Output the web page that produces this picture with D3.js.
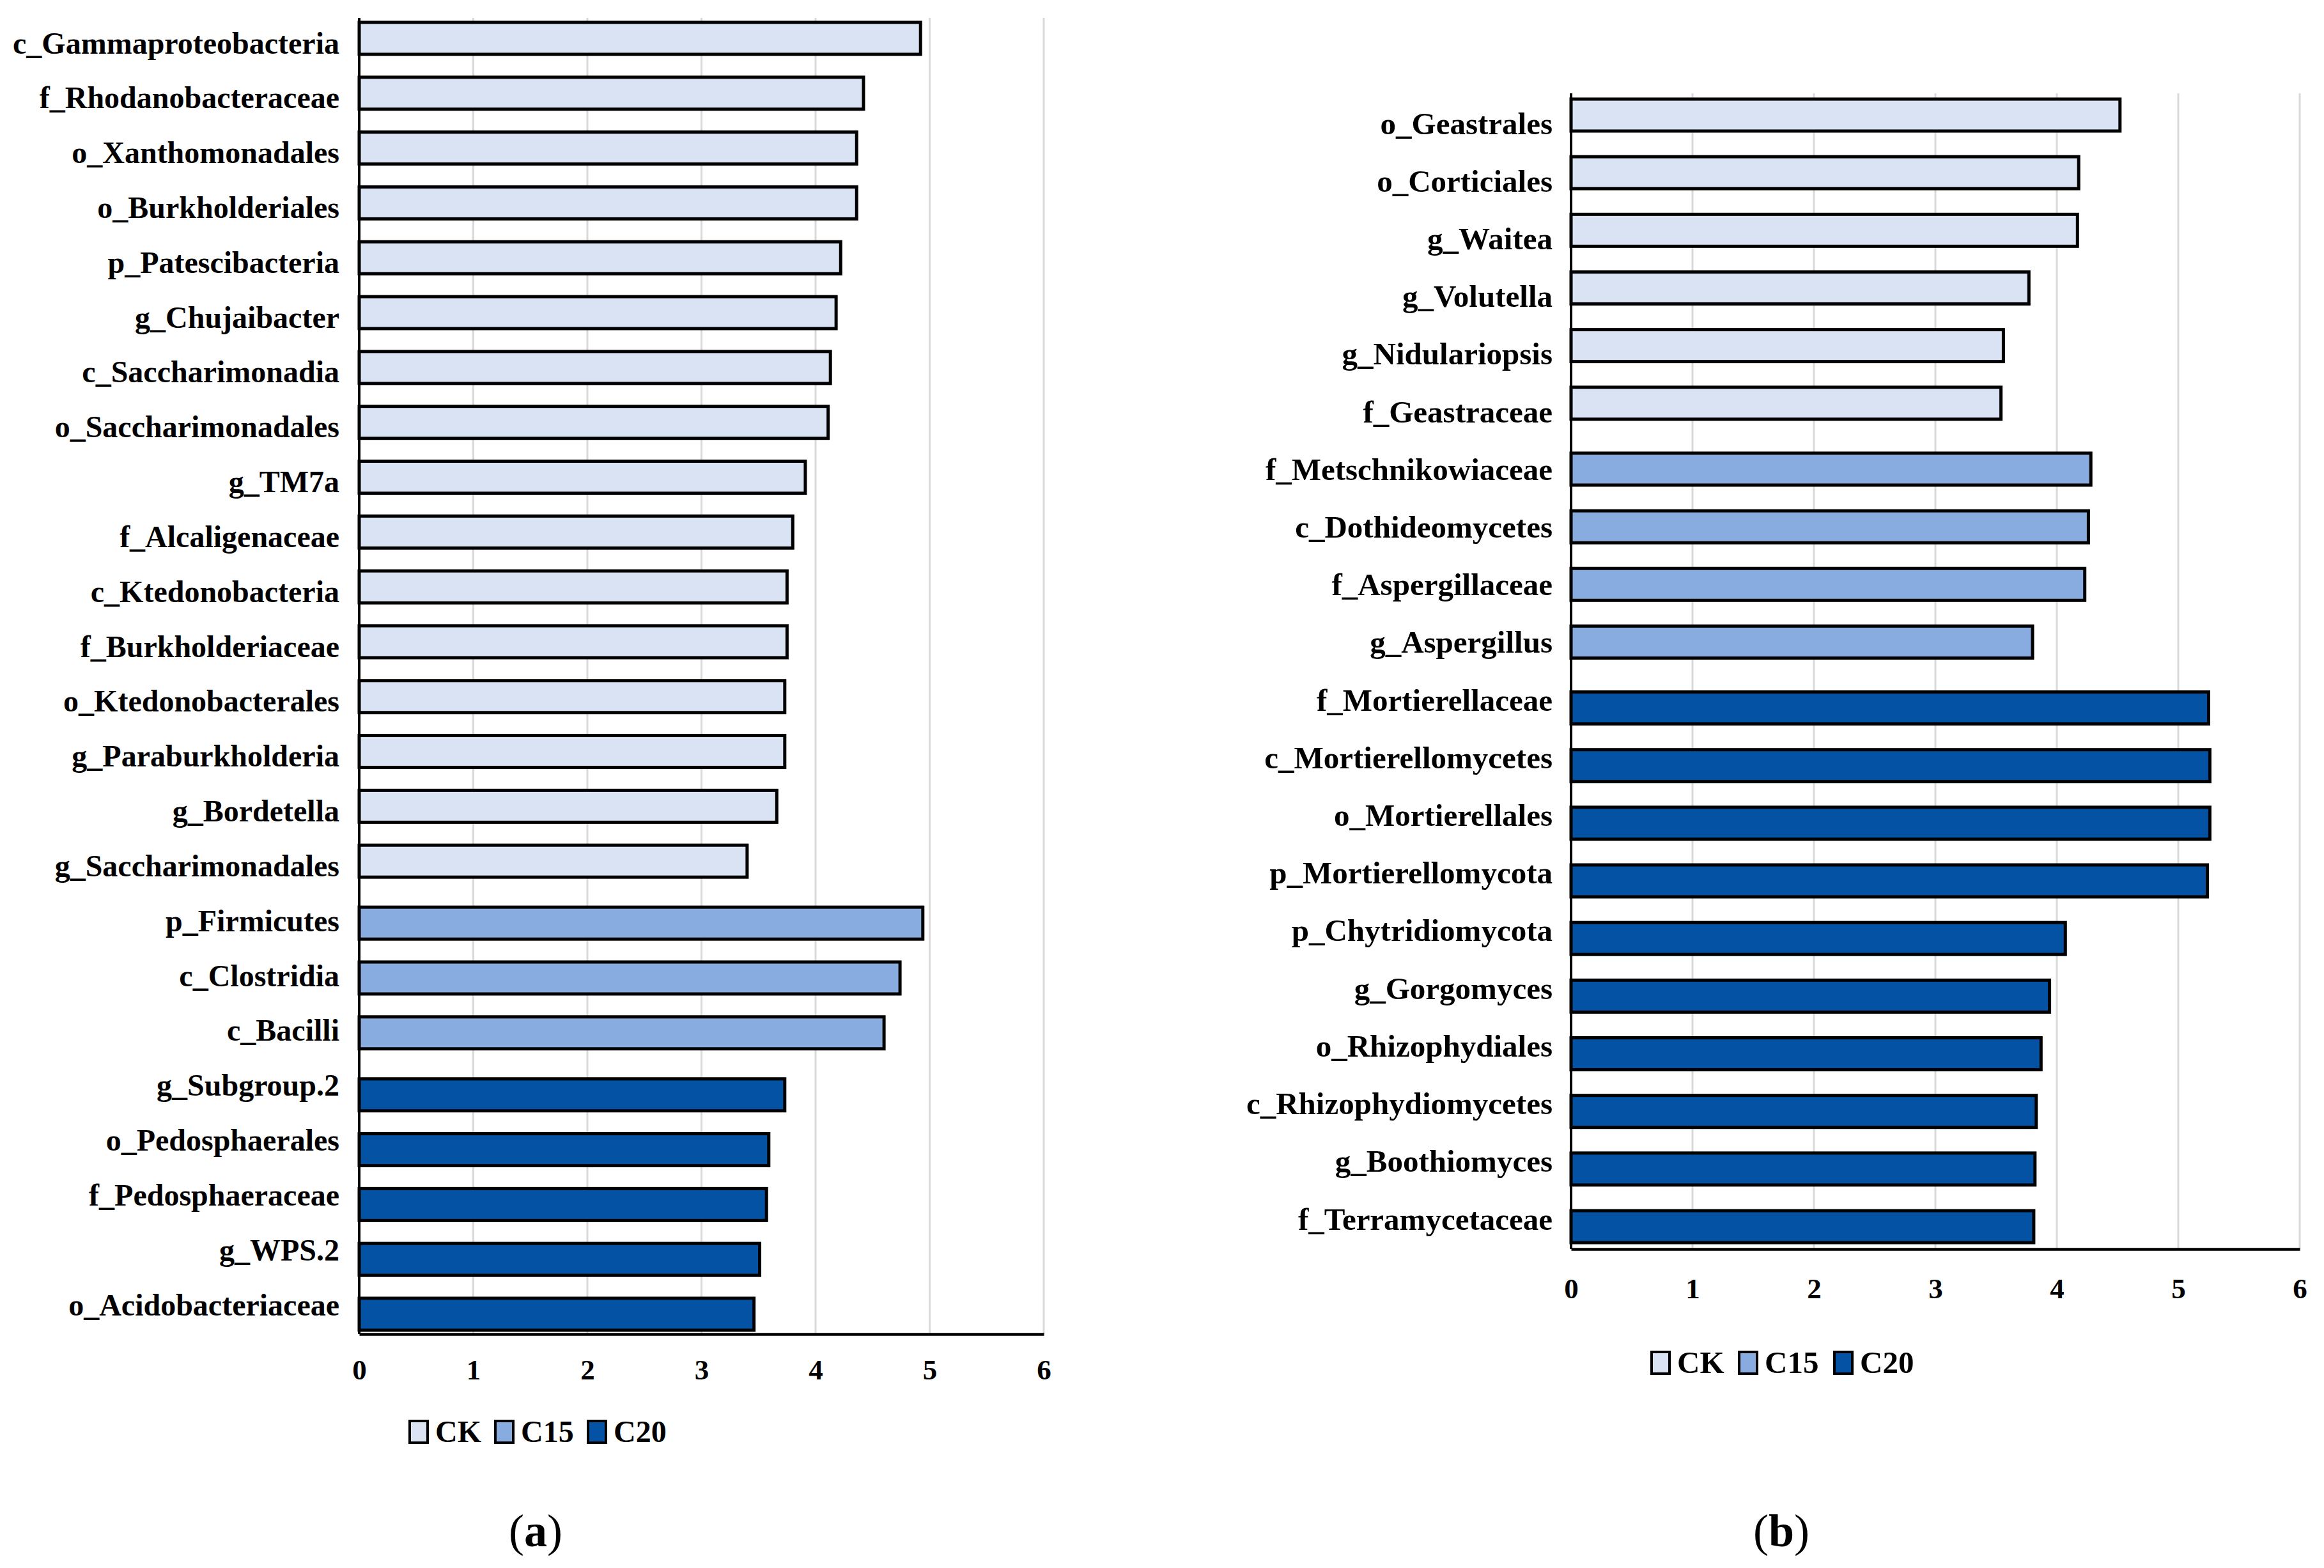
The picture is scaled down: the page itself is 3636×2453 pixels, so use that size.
<!DOCTYPE html>
<html>
<head>
<meta charset="utf-8">
<script src="https://cdn.jsdelivr.net/npm/d3@7/dist/d3.min.js"></script>
<style>
  html, body { margin: 0; padding: 0; background: #ffffff; }
  svg { display: block; }
  text { font-family: "Liberation Serif", "Times New Roman", serif; fill: #000; }
</style>
</head>
<body>
<svg id="chart" width="3636" height="2453"></svg>
<script>
// ---------- Data (a) ----------
const catsA = ["c_Gammaproteobacteria","f_Rhodanobacteraceae","o_Xanthomonadales","o_Burkholderiales",
  "p_Patescibacteria","g_Chujaibacter","c_Saccharimonadia","o_Saccharimonadales","g_TM7a",
  "f_Alcaligenaceae","c_Ktedonobacteria","f_Burkholderiaceae","o_Ktedonobacterales",
  "g_Paraburkholderia","g_Bordetella","g_Saccharimonadales",
  "p_Firmicutes","c_Clostridia","c_Bacilli",
  "g_Subgroup.2","o_Pedosphaerales","f_Pedosphaeraceae","g_WPS.2","o_Acidobacteriaceae"];
const valsA = [4.92,4.42,4.36,4.36,4.22,4.18,4.13,4.11,3.91,3.80,3.75,3.75,3.73,3.73,3.66,3.40,
  4.94,4.74,4.60,
  3.73,3.59,3.57,3.51,3.46];
const groupA = ["CK","CK","CK","CK","CK","CK","CK","CK","CK","CK","CK","CK","CK","CK","CK","CK",
  "C15","C15","C15",
  "C20","C20","C20","C20","C20"];

// ---------- Data (b) ----------
const catsB = ["o_Geastrales","o_Corticiales","g_Waitea","g_Volutella","g_Nidulariopsis","f_Geastraceae",
  "f_Metschnikowiaceae","c_Dothideomycetes","f_Aspergillaceae","g_Aspergillus",
  "f_Mortierellaceae","c_Mortierellomycetes","o_Mortierellales","p_Mortierellomycota",
  "p_Chytridiomycota","g_Gorgomyces","o_Rhizophydiales","c_Rhizophydiomycetes",
  "g_Boothiomyces","f_Terramycetaceae"];
const valsB = [4.52,4.18,4.17,3.77,3.56,3.54,
  4.28,4.26,4.23,3.80,
  5.25,5.26,5.26,5.24,4.07,3.94,3.87,3.83,3.82,3.81];
const groupB = ["CK","CK","CK","CK","CK","CK",
  "C15","C15","C15","C15",
  "C20","C20","C20","C20","C20","C20","C20","C20","C20","C20"];

const seriesNames = ["CK","C15","C20"];
const xTicks = [0,1,2,3,4,5,6];
const panelLabels = ["a","b"];

// ---------- Styles ----------
const color = d3.scaleOrdinal().domain(seriesNames).range(["#dae3f3","#88acdf","#0352a4"]);
const svg = d3.select("#chart");

function drawPanel(cats, vals, groups, L) {
  const g = svg.append("g");
  const x = d3.scaleLinear().domain([0, 6]).range([L.x0, L.x6]);

  // gridlines
  g.selectAll("line.grid").data(xTicks.filter(d => d > 0)).join("line")
    .attr("x1", d => x(d)).attr("x2", d => x(d))
    .attr("y1", L.top).attr("y2", L.bottom)
    .attr("stroke", "#d9d9d9").attr("stroke-width", 3);

  // bar slots with a small gap between groups
  const GAP = L.gap;
  let gi = 0;
  const slots = groups.map((s, i) => { if (i > 0 && s !== groups[i-1]) gi++; return i + gi * GAP; });
  const ySlot = d3.scaleLinear().domain([0, d3.max(slots)]).range([L.barFirst, L.barLast]);

  g.selectAll("rect.bar").data(cats).join("rect")
    .attr("x", x(0))
    .attr("y", (d, i) => ySlot(slots[i]) - L.barH / 2)
    .attr("width", (d, i) => x(vals[i]) - x(0))
    .attr("height", L.barH)
    .attr("fill", (d, i) => color(groups[i]))
    .attr("stroke", "#000").attr("stroke-width", 5);

  // category labels (uniform spacing)
  const yLab = d3.scalePoint().domain(cats).range([L.labFirst, L.labLast]);
  const yAxis = d3.axisLeft(yLab).tickSize(0).tickPadding(x(0) - L.labRight);
  const ya = g.append("g").attr("transform", `translate(${x(0)},0)`).call(yAxis);
  ya.select(".domain").remove();
  ya.selectAll("text")
    .attr("dy", null).attr("y", 16)
    .style("font-family", '"Liberation Serif","Times New Roman",serif')
    .style("font-size", L.font + "px").style("font-weight", "bold").attr("fill", "#000");

  // left axis line
  g.append("line").attr("x1", x(0)).attr("x2", x(0)).attr("y1", L.top).attr("y2", L.bottom)
    .attr("stroke", "#000").attr("stroke-width", 4);

  // bottom axis
  const xAxis = d3.axisBottom(x).tickValues(xTicks).tickSize(0).tickPadding(L.tickPad).tickFormat(d3.format("d"));
  const xa = g.append("g").attr("transform", `translate(0,${L.bottom})`).call(xAxis);
  xa.select(".domain").attr("stroke", "#000").attr("stroke-width", 4.5);
  xa.selectAll("text")
    .style("font-family", '"Liberation Serif","Times New Roman",serif')
    .style("font-size", "45px").style("font-weight", "bold").attr("fill", "#000");

  // legend
  const lg = g.append("g").attr("transform", `translate(${L.legX},${L.legY})`);
  const item = lg.selectAll("g").data(seriesNames).join("g")
    .attr("transform", (d, i) => `translate(${L.legStep[i]},0)`);
  item.append("rect").attr("x", 0).attr("y", -17).attr("width", 28).attr("height", 34)
    .attr("fill", d => color(d)).attr("stroke", "#000").attr("stroke-width", 4);
  item.append("text").attr("x", 40).attr("y", 16).text(d => d)
    .style("font-size", L.font + "px").style("font-weight", "bold");

  // panel caption
  const cap = g.append("text").attr("x", L.capX).attr("y", L.capY).attr("text-anchor", "middle")
    .style("font-size", "72px");
  cap.append("tspan").text("(");
  cap.append("tspan").style("font-weight", "bold").text(L.cap);
  cap.append("tspan").text(")");
}

drawPanel(catsA, valsA, groupA, {
  x0: 562, x6: 1633, top: 28, bottom: 2087,
  barFirst: 60, barLast: 2056, barH: 50, gap: 0.13,
  labFirst: 67, labLast: 2041, labRight: 531, font: 48,
  tickPad: 39,
  legX: 641, legY: 2240, legStep: [0, 134, 279],
  capX: 838, capY: 2419, cap: panelLabels[0]
});

drawPanel(catsB, valsB, groupB, {
  x0: 2458, x6: 3598, top: 146, bottom: 1954,
  barFirst: 180, barLast: 1919, barH: 50, gap: 0.144,
  labFirst: 193, labLast: 1907, labRight: 2429, font: 49,
  tickPad: 45,
  legX: 2584, legY: 2132, legStep: [0, 137, 286],
  capX: 2787, capY: 2419, cap: panelLabels[1]
});
</script>
</body>
</html>
